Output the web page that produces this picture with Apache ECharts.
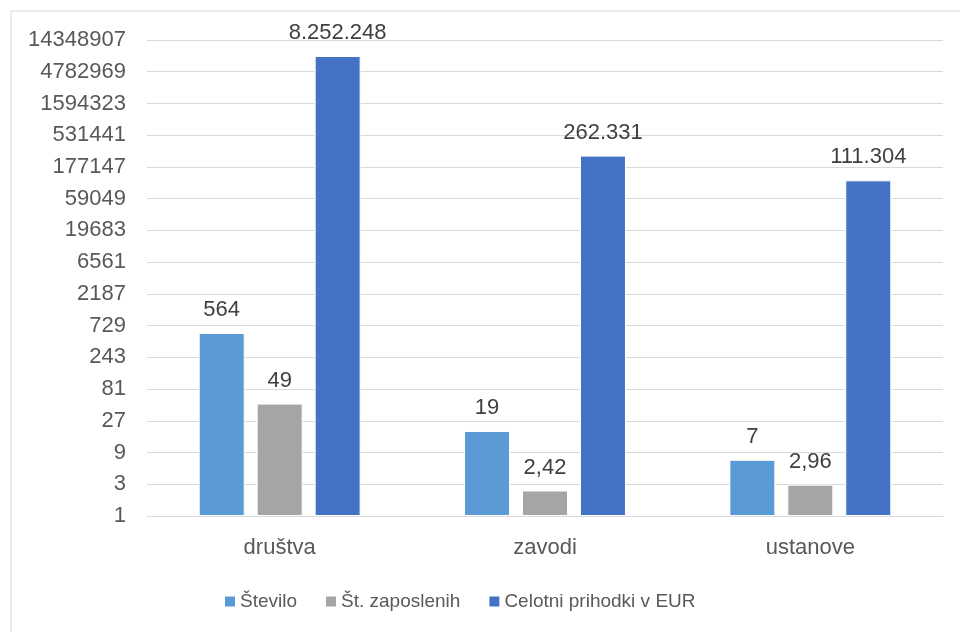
<!DOCTYPE html>
<html>
<head>
<meta charset="utf-8">
<script src="https://cdn.jsdelivr.net/npm/echarts@6/dist/echarts.min.js"></script>
<style>
  html, body { margin: 0; padding: 0; background: #fff; }
  #chart { width: 960px; height: 632px; }
</style>
</head>
<body>
<div id="chart"></div>
<script>
const categories = ['društva', 'zavodi', 'ustanove']
const stevilo = [564, 19, 7]
const zaposleni = [49, 2.42, 2.96]
const prihodki = [8252248, 262331, 111304]
const seriesNames = ['Število', 'Št. zaposlenih', 'Celotni prihodki v EUR']
const seriesColors = ['#5b9bd5', '#a5a5a5', '#4472c4']

const FONT = '"Liberation Sans", Arial, sans-serif'

// slovenian number format: 8.252.248 / 2,42
function fmt(v) {
  const parts = String(v).split('.')
  const int = parts[0].replace(/\B(?=(\d{3})+(?!\d))/g, '.')
  return parts[1] ? int + ',' + parts[1] : int
}

const chart = echarts.init(document.getElementById('chart'))

function makeSeries(name, values, color) {
  return {
    name: name,
    type: 'bar',
    data: values,
    barWidth: 46,
    barGap: '26%',
    itemStyle: { color: color, borderColor: '#ffffff', borderWidth: 1 },
    label: {
      show: true,
      position: 'top',
      distance: 12,
      color: '#404040',
      fontFamily: FONT,
      fontSize: 22,
      formatter: (p) => fmt(p.value),
    },
  }
}

chart.setOption({
  backgroundColor: '#ffffff',
  animation: false,
  graphic: [
    {
      type: 'rect',
      shape: { x: 11, y: 11, width: 980, height: 660 },
      style: { fill: 'none', stroke: '#d9d9d9', lineWidth: 1 },
      silent: true,
    },
  ],
  grid: { left: 147, right: 17, top: 40, bottom: 116 },
  legend: {
    left: 225,
    top: 592,
    padding: 0,
    itemWidth: 10,
    itemHeight: 10,
    itemGap: 29,
    icon: 'rect',
    itemStyle: { borderWidth: 0 },
    textStyle: { color: '#595959', fontFamily: FONT, fontSize: 19 },
    data: seriesNames,
  },
  xAxis: {
    type: 'category',
    data: categories,
    axisLine: { lineStyle: { color: '#d9d9d9' } },
    axisTick: { show: false },
    axisLabel: { color: '#595959', fontFamily: FONT, fontSize: 22, margin: 21 },
  },
  yAxis: {
    type: 'log',
    logBase: 3,
    min: 1,
    max: 14348907,
    interval: 1,
    splitNumber: 15,
    axisLine: { show: false },
    axisTick: { show: false },
    splitLine: { lineStyle: { color: '#d9d9d9' } },
    axisLabel: {
      color: '#595959',
      fontFamily: FONT,
      fontSize: 22,
      margin: 21,
      formatter: (v) => String(Math.round(v)),
    },
  },
  series: [
    makeSeries(seriesNames[0], stevilo, seriesColors[0]),
    makeSeries(seriesNames[1], zaposleni, seriesColors[1]),
    makeSeries(seriesNames[2], prihodki, seriesColors[2]),
  ],
})
</script>
</body>
</html>
